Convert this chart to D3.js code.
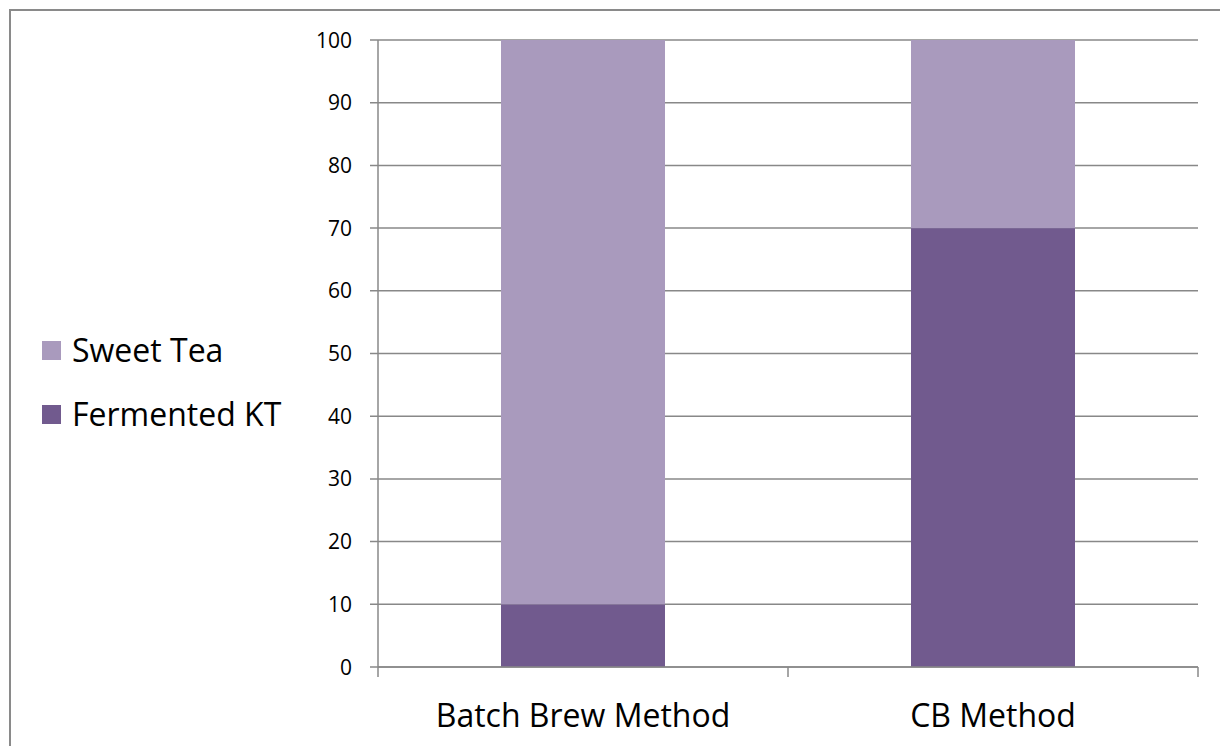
<!DOCTYPE html>
<html><head><meta charset="utf-8">
<script src="https://cdn.jsdelivr.net/npm/d3@7"></script>
<style>body{margin:0;background:#fff}svg{display:block}text{font-family:"Open Sans","Noto Sans",sans-serif;fill:#000}</style>
</head><body><svg id="c" width="1220" height="746"></svg>
<script>
const categories = ["Batch Brew Method", "CB Method"];
const fermentedKT = [10, 70];
const sweetTea = [90, 30];
const seriesNames = ["Sweet Tea", "Fermented KT"];
const yTicks = [0, 10, 20, 30, 40, 50, 60, 70, 80, 90, 100];
const colors = {"Fermented KT": "#715A8E", "Sweet Tea": "#A99ABD"};

const svg = d3.select("#c");
// outer frame
svg.append("rect").attr("x", 10).attr("y", 10).attr("width", 1240).attr("height", 760)
  .attr("fill", "#fff").attr("stroke", "#8a8a8a").attr("stroke-width", 2);

const L = 378, R = 1198, T = 40, B = 667;
const x = d3.scaleBand().domain(categories).range([L, R]).paddingInner(0).paddingOuter(0);
const y = d3.scaleLinear().domain([0, 100]).range([B, T]);

// gridlines
svg.append("g").selectAll("line").data(yTicks).join("line")
  .attr("x1", L - 8).attr("x2", R).attr("y1", d => y(d)).attr("y2", d => y(d))
  .attr("stroke", "#888").attr("stroke-width", 1.5);

// stacked data
const rows = categories.map((c, i) => ({cat: c, "Fermented KT": fermentedKT[i], "Sweet Tea": sweetTea[i]}));
const stack = d3.stack().keys(["Fermented KT", "Sweet Tea"])(rows);
const bw = x.bandwidth() * 0.4;
svg.append("g").selectAll("g").data(stack).join("g")
  .attr("fill", d => colors[d.key])
  .selectAll("rect").data(d => d).join("rect")
  .attr("x", d => x(d.data.cat) + (x.bandwidth() - bw) / 2)
  .attr("width", bw)
  .attr("y", d => y(d[1]))
  .attr("height", d => y(d[0]) - y(d[1]));

// y axis line
svg.append("line").attr("x1", L).attr("x2", L).attr("y1", T).attr("y2", B)
  .attr("stroke", "#888").attr("stroke-width", 1.5);
// x axis line + category ticks
svg.append("line").attr("x1", L).attr("x2", R).attr("y1", B).attr("y2", B)
  .attr("stroke", "#888").attr("stroke-width", 1.5);
const xt = categories.map(c => x(c)).concat([R]);
svg.append("g").selectAll("line").data(xt).join("line")
  .attr("x1", d => d).attr("x2", d => d).attr("y1", B).attr("y2", B + 10)
  .attr("stroke", "#888").attr("stroke-width", 1.5);

// y tick labels
svg.append("g").selectAll("text").data(yTicks).join("text")
  .attr("x", 352).attr("y", d => y(d)).attr("dy", "0.36em")
  .attr("text-anchor", "end").style("font-size", "21px").text(d => d);

// x labels
svg.append("g").selectAll("text").data(categories).join("text")
  .attr("x", d => x(d) + x.bandwidth() / 2).attr("y", 727)
  .attr("text-anchor", "middle").style("font-size", "32px").text(d => d);

// legend
const lg = svg.append("g").selectAll("g").data(seriesNames).join("g")
  .attr("transform", (d, i) => `translate(42,${341 + i * 64})`);
lg.append("rect").attr("width", 19).attr("height", 19).attr("fill", d => colors[d]);
lg.append("text").attr("x", 30).attr("y", 21)
  .style("font-size", "32px").text(d => d);
</script></body></html>
